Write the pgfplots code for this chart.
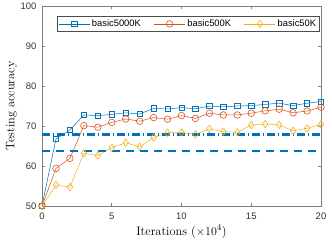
\documentclass[border=0pt]{standalone}
\usepackage{fontspec}
\usepackage{pgfplots}
\pgfplotsset{compat=1.18}
\newfontfamily\arial{Liberation Sans}
\definecolor{mblue}{rgb}{0,0.447,0.741}
\definecolor{morange}{rgb}{0.85,0.325,0.098}
\definecolor{myellow}{rgb}{0.929,0.694,0.125}
\definecolor{axgray}{gray}{0.5}
\begin{document}
\begin{tikzpicture}
\begin{axis}[
  name=ax,
  scale only axis,
  width=279bp, height=200bp,
  xmin=0, xmax=20, ymin=50, ymax=100,
  xtick={0,5,10,15,20}, ytick={50,60,70,80,90,100},
  axis line style={axgray, line width=0.6bp},
  every tick/.style={axgray, line width=0.6bp},
  major tick length=3bp,
  /pgf/number format/assume math mode=true,
  ticklabel style={font=\arial\fontsize{9.5}{10}\selectfont, text=black!80},
  xticklabel style={yshift=-3bp},
  yticklabel style={xshift=-2bp},
  xlabel={Iterations ($\times 10^4$)},
  ylabel={Testing accuracy},
  label style={font=\fontsize{12.4}{13}\selectfont},
  xlabel style={yshift=1bp},
  ylabel style={yshift=-3bp},
  clip=false,
  legend columns=3,
  legend style={at={(0.996,0.95)}, anchor=north east, draw=black!70, line width=0.5bp,
    font=\arial\fontsize{9.4}{10}\selectfont, inner sep=1.5bp, row sep=0bp,
    /tikz/every even column/.append style={column sep=11bp}},
  legend cell align=left,
  legend image code/.code={\draw[mark repeat=2,mark phase=2] plot coordinates {(0bp,0bp) (15.5bp,0bp) (31bp,0bp)};},
]
\addplot[mblue, line width=0.5bp, mark=square, mark size=2.7bp, mark options={line width=0.6bp, solid}] coordinates {
(0,50) (1,66.75) (2,69) (3,72.75) (4,72.6) (5,72.9) (6,73.3) (7,73) (8,74.4) (9,74.25) (10,74.6)
(11,74.3) (12,75) (13,74.8) (14,75) (15,75.1) (16,75.4) (17,75.7) (18,75.1) (19,75.7) (20,76.1)};
\addlegendentry{basic5000K}
\addplot[morange, line width=0.5bp, mark=o, mark size=3.3bp, mark options={line width=0.6bp, solid}] coordinates {
(0,50) (1,59.4) (2,61.9) (3,70.1) (4,69.7) (5,70.9) (6,71.75) (7,71.2) (8,72.1) (9,71.7) (10,72.6)
(11,71.9) (12,73.2) (13,72.75) (14,72.75) (15,73.2) (16,73.8) (17,74.2) (18,73.3) (19,73.75) (20,74.7)};
\addlegendentry{basic500K}
\addplot[myellow, line width=0.5bp, mark=diamond, mark size=3.7bp, mark options={line width=0.6bp, solid}] coordinates {
(0,50) (1,55.25) (2,54.7) (3,63.2) (4,62.6) (5,64.6) (6,65.8) (7,64.8) (8,67.1) (9,68.3) (10,68.4)
(11,67.9) (12,69.25) (13,68.6) (14,68.4) (15,70.25) (16,70.5) (17,70.25) (18,68.8) (19,69.4) (20,70.4)};
\addlegendentry{basic50K}
\addplot[mblue, line width=2.3bp, dash pattern=on 7.5bp off 3bp on 1.5bp off 3bp, forget plot] coordinates {(0,67.9) (20,67.9)};
\addplot[mblue, line width=2.3bp, dash pattern=on 8bp off 6bp, forget plot] coordinates {(0,63.8) (20,63.8)};
\end{axis}
\pgfresetboundingbox
\path[use as bounding box] ([shift={(-42bp,-36bp)}]ax.south west) rectangle ([shift={(11bp,6bp)}]ax.north east);
\end{tikzpicture}
\end{document}
